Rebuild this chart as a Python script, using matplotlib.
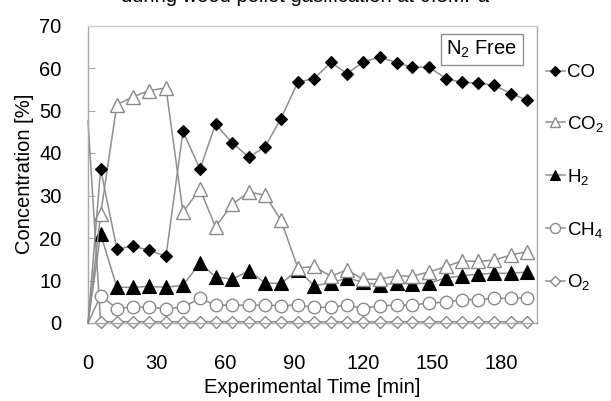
import matplotlib
matplotlib.use("Agg")
import matplotlib.pyplot as plt

plt.rcParams['font.family'] = ['Liberation Sans', 'DejaVu Sans']
plt.rcParams['mathtext.fontset'] = 'custom'
plt.rcParams['mathtext.rm'] = 'Liberation Sans'
plt.rcParams['mathtext.it'] = 'Liberation Sans'

time = [0, 5.5, 12.6, 19.6, 26.6, 34.0, 41.4, 48.8, 55.6, 62.8, 70.2, 77.2, 84.1, 91.5,
        98.5, 105.9, 112.9, 119.9, 127.3, 134.5, 141.2, 148.6, 156.1, 163.0, 170.0,
        177.0, 184.4, 191.4]
co = [0, 36.2, 17.4, 18.1, 17.1, 15.7, 45.1, 36.2, 46.8, 42.4, 39.0, 41.5, 48.1, 56.7,
      57.5, 61.3, 58.7, 61.4, 62.6, 61.2, 60.2, 60.2, 57.5, 56.6, 56.5, 55.9, 54.0, 52.4]
co2 = [0, 25.6, 51.4, 53.2, 54.7, 55.3, 26.1, 31.5, 22.6, 27.9, 30.8, 30.1, 24.2, 12.9,
       13.3, 11.0, 12.5, 10.3, 10.3, 11.1, 11.0, 12.0, 13.3, 14.6, 14.5, 14.8, 16.0, 16.8]
h2 = [0, 20.9, 8.4, 8.4, 8.6, 8.4, 8.9, 14.1, 10.9, 10.3, 12.3, 9.4, 9.3, 12.5,
      8.8, 9.4, 10.6, 9.6, 8.9, 9.4, 9.2, 9.4, 10.6, 11.1, 11.5, 11.7, 11.7, 12.0]
ch4 = [0, 6.4, 3.4, 3.8, 3.7, 3.4, 3.7, 5.8, 4.2, 4.2, 4.2, 4.2, 4.1, 4.2,
       3.7, 3.7, 4.2, 3.4, 4.1, 4.2, 4.2, 4.7, 4.9, 5.5, 5.5, 5.8, 5.8, 5.9]
o2 = [47.5, 0.3, 0.3, 0.3, 0.3, 0.3, 0.3, 0.3, 0.3, 0.3, 0.3, 0.3, 0.3, 0.3,
      0.3, 0.3, 0.3, 0.3, 0.3, 0.3, 0.3, 0.3, 0.3, 0.3, 0.3, 0.3, 0.3, 0.3]

xticks = [0, 30, 60, 90, 120, 150, 180]
yticks = [0, 10, 20, 30, 40, 50, 60, 70]

fig = plt.figure(figsize=(6.11, 4.01), dpi=100)
ax = fig.add_axes([88/611, 1-323/401, (537-88)/611, (323-25.5)/401])

lc = '#8f8f8f'
ec = '#8a8a8a'
mk = slice(1, None)
ax.plot(time, o2, color=lc, lw=1.1, marker='D', ms=6.5, mfc='white', mec=ec, mew=1.0, markevery=mk, label='O$_2$', zorder=2)
ax.plot(time, ch4, color=lc, lw=1.1, marker='o', ms=9, mfc='white', mec=ec, mew=1.0, markevery=mk, label='CH$_4$', zorder=3)
ax.plot(time, h2, color=lc, lw=1.1, marker='^', ms=9.5, mfc='black', mec='black', mew=0.8, markevery=mk, label='H$_2$', zorder=4)
ax.plot(time, co2, color=lc, lw=1.1, marker='^', ms=9.5, mfc='white', mec=ec, mew=1.0, markevery=mk, label='CO$_2$', zorder=5)
ax.plot(time, co, color=lc, lw=1.1, marker='D', ms=6.5, mfc='black', mec='black', mew=0.8, markevery=mk, label='CO', zorder=6)

ax.set_xlim(0, 195.7)
ax.set_ylim(0, 70)
ax.set_xticks(xticks)
ax.set_yticks(yticks)
for s in ax.spines.values():
    s.set_color('#a8a8a8')
    s.set_linewidth(1.0)
ax.spines['top'].set_color('#d0d0d0')
ax.tick_params(axis='y', direction='in', length=5, color='#a8a8a8', pad=19, labelsize=14.5)
ax.tick_params(axis='x', length=0, pad=22, labelsize=14.5)
for ln in ax.lines:
    ln.set_clip_on(False)

ax.set_xlabel('Experimental Time [min]', fontsize=14.5, labelpad=4)
ax.set_ylabel('Concentration [%]', fontsize=14.5, labelpad=4)

ax.text(0.957, 0.955, 'N$_2$ Free', transform=ax.transAxes, ha='right', va='top', fontsize=14.5,
        bbox=dict(boxstyle='square,pad=0.25', fc='white', ec='#909090', lw=1.0), zorder=10)

handles, labels = ax.get_legend_handles_labels()
order = [4, 3, 2, 1, 0]
leg = fig.legend([handles[i] for i in order], [labels[i] for i in order],
                 loc='upper left', bbox_to_anchor=(546/611, 1-64/401), frameon=False,
                 fontsize=13.5, handlelength=1.0, handletextpad=0.1, labelspacing=1.75,
                 markerscale=0.8, borderpad=0, borderaxespad=0)

fig.text(0.5, 1.0 + 3/401, 'during wood pellet gasification at 0.3MPa', ha='center', va='center',
         fontsize=14.5)

fig.savefig('out.png', dpi=100)
